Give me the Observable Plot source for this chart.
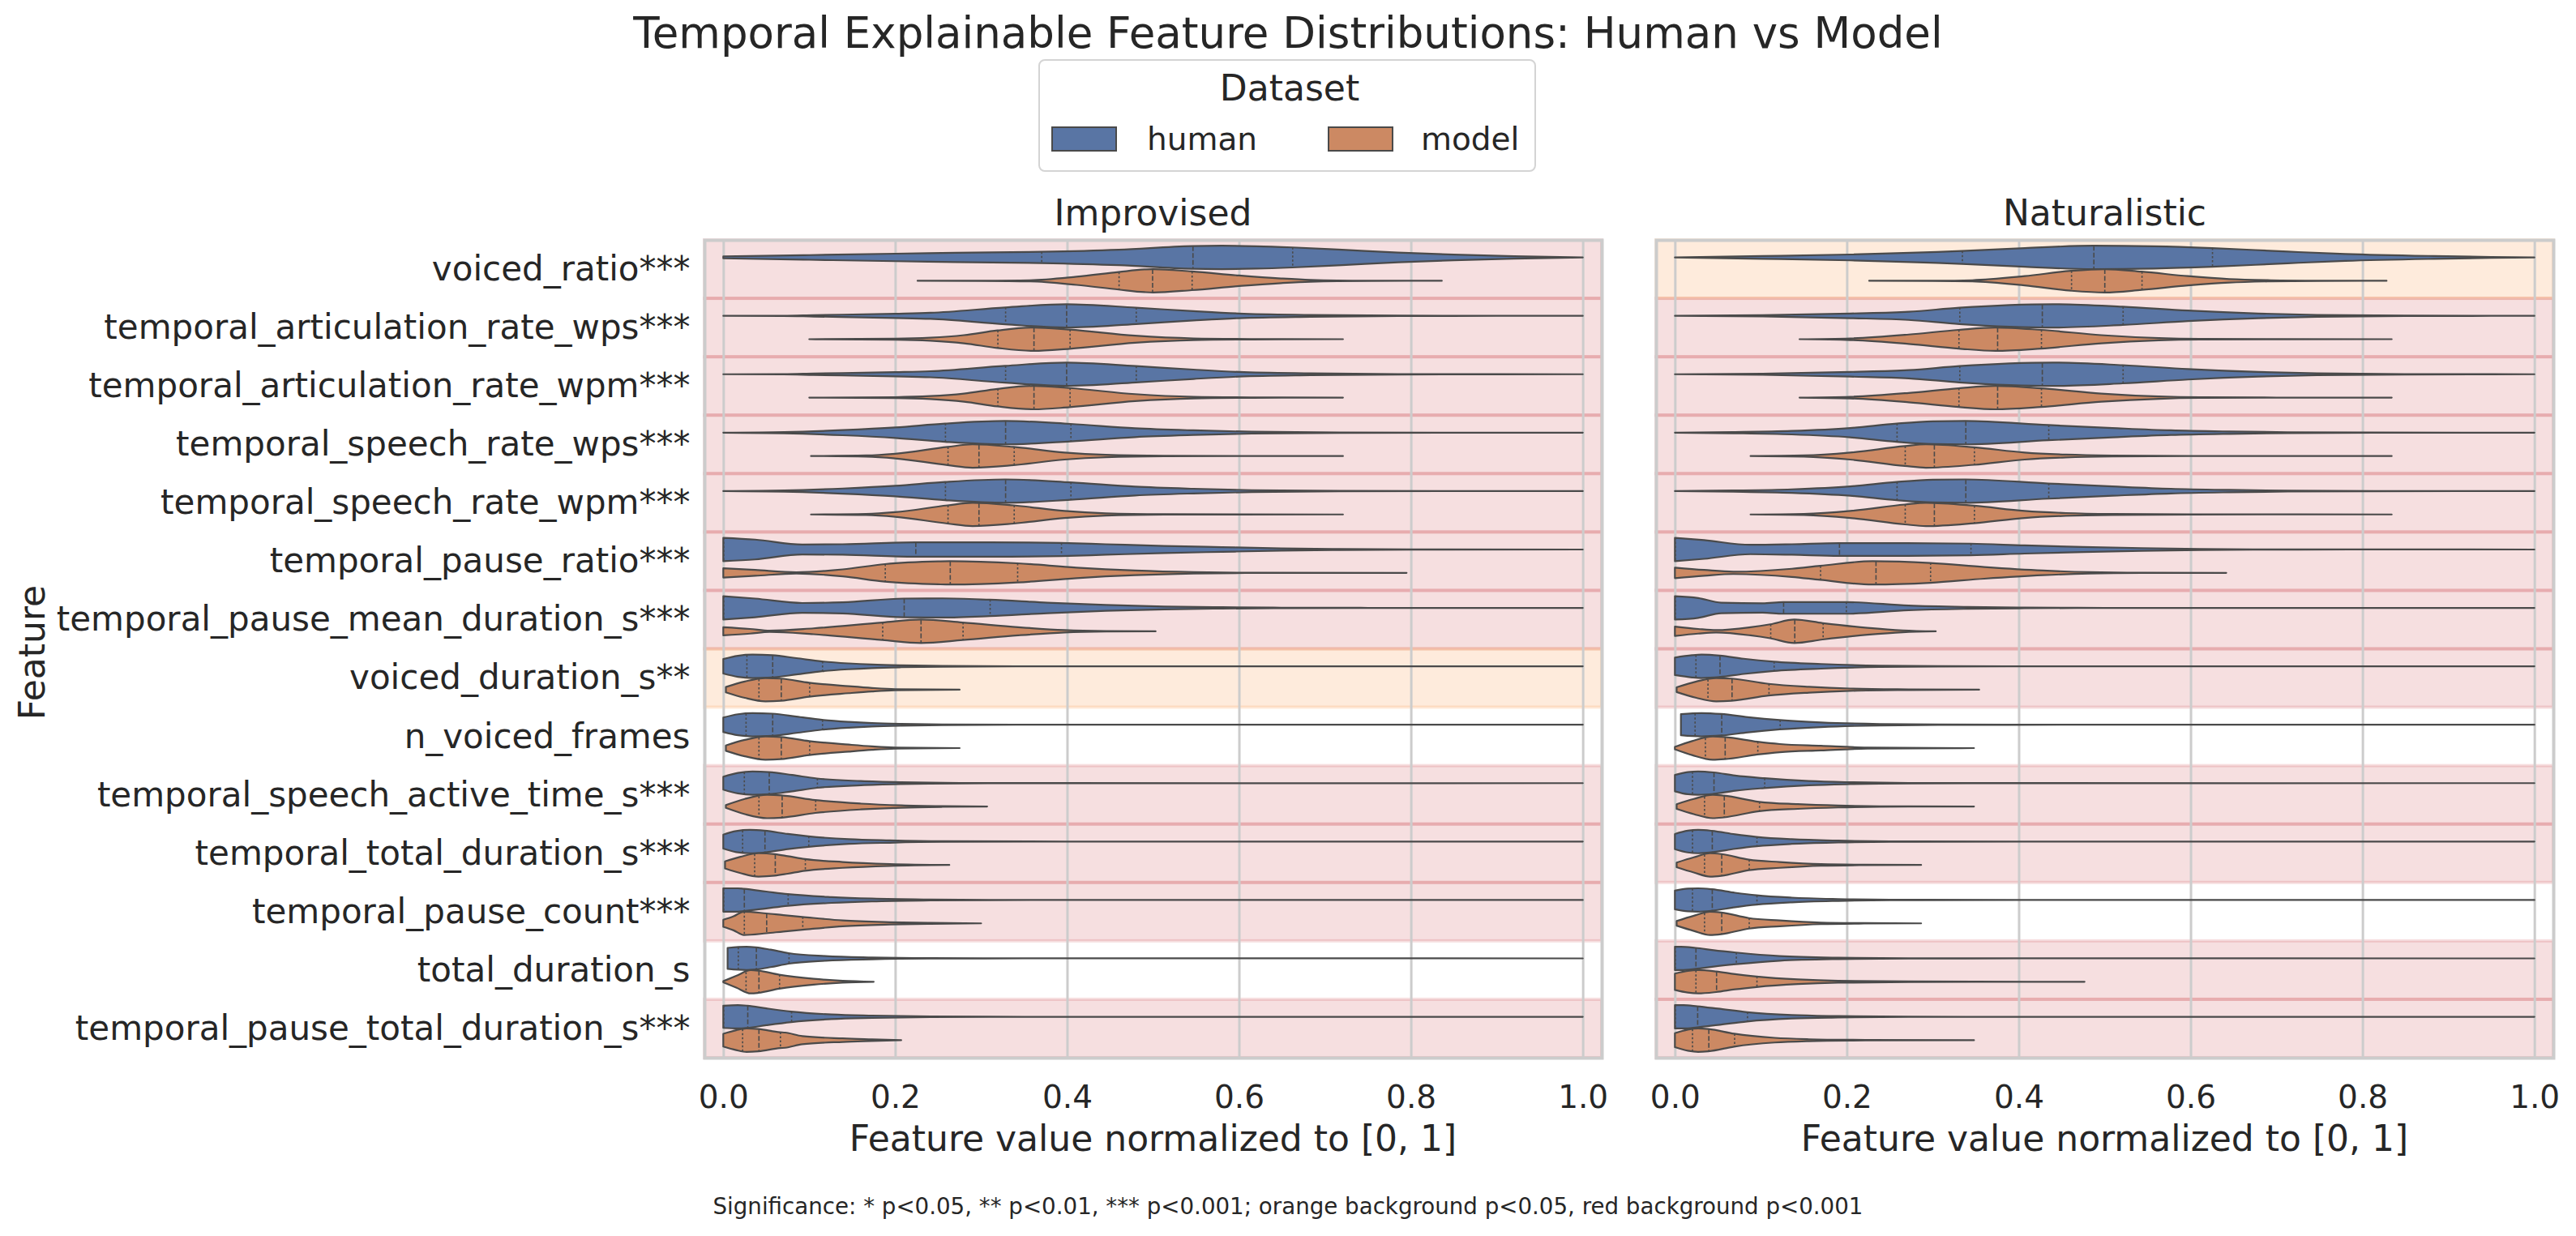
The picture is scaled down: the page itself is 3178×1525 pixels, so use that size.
<!DOCTYPE html>
<html>
<head>
<meta charset="utf-8">
<script src="https://cdn.jsdelivr.net/npm/d3@7"></script>
<script src="https://cdn.jsdelivr.net/npm/@observablehq/plot@0.6"></script>
<style>
  body { margin: 0; background: #ffffff; }
  #root { position: relative; width: 3178px; height: 1525px; overflow: hidden;
          font-family: "DejaVu Sans", sans-serif; color: #262626; background: #fff; }
  .t { position: absolute; white-space: nowrap; line-height: 1; transform: translate(-50%, -50%); }
</style>
</head>
<body>
<div id="root"></div>
<script>
// ---------------- DATA ----------------
const features = [
  "voiced_ratio***",
  "temporal_articulation_rate_wps***",
  "temporal_articulation_rate_wpm***",
  "temporal_speech_rate_wps***",
  "temporal_speech_rate_wpm***",
  "temporal_pause_ratio***",
  "temporal_pause_mean_duration_s***",
  "voiced_duration_s**",
  "n_voiced_frames",
  "temporal_speech_active_time_s***",
  "temporal_total_duration_s***",
  "temporal_pause_count***",
  "total_duration_s",
  "temporal_pause_total_duration_s***"
];
const panels = ["Improvised", "Naturalistic"];
const datasets = ["human", "model"];
const xTicks = [0, 0.2, 0.4, 0.6, 0.8, 1.0];

// background significance per feature row (red p<0.001, orange p<0.05, null none)
const improvisedSig = ["red","red","red","red","red","red","red","orange",null,"red","red","red",null,"red"];
const naturalisticSig = ["orange","red","red","red","red","red","red","red",null,"red","red",null,"red","red"];

// violin outlines: [value, relative half-width], first point = min, last point = max
const improvisedHumanShape = [
  [[0,0.08],[0.1,0.2],[0.2,0.32],[0.27,0.4],[0.37,0.48],[0.46,0.66],[0.545,0.97],[0.58,1.0],[0.62,0.96],[0.662,0.86],[0.72,0.66],[0.785,0.42],[0.85,0.24],[0.92,0.1],[1.0,0]],
  [[0,0],[0.07,0.01],[0.105,0.06],[0.2,0.18],[0.241,0.26],[0.328,0.72],[0.399,1.0],[0.48,0.7],[0.547,0.4],[0.6,0.2],[0.683,0.08],[0.785,0.02],[0.9,0.005],[1,0]],
  [[0,0],[0.07,0.01],[0.105,0.06],[0.2,0.18],[0.241,0.26],[0.328,0.72],[0.399,1.0],[0.48,0.7],[0.547,0.4],[0.6,0.2],[0.683,0.08],[0.785,0.02],[0.9,0.005],[1,0]],
  [[0,0],[0.071,0.05],[0.139,0.22],[0.2,0.45],[0.258,0.78],[0.328,1.0],[0.404,0.75],[0.479,0.38],[0.547,0.2],[0.615,0.08],[0.717,0.02],[0.85,0.005],[1,0]],
  [[0,0],[0.071,0.05],[0.139,0.22],[0.2,0.45],[0.258,0.78],[0.328,1.0],[0.404,0.75],[0.479,0.38],[0.547,0.2],[0.615,0.08],[0.717,0.02],[0.85,0.005],[1,0]],
  [[0,1.0],[0.037,0.85],[0.092,0.42],[0.139,0.45],[0.2235,0.62],[0.31,0.62],[0.393,0.56],[0.445,0.45],[0.513,0.3],[0.58,0.2],[0.649,0.1],[0.717,0.04],[0.8,0.01],[1,0]],
  [[0,1.0],[0.037,0.8],[0.092,0.42],[0.139,0.48],[0.21,0.8],[0.255,0.82],[0.31,0.7],[0.377,0.45],[0.445,0.25],[0.513,0.12],[0.58,0.06],[0.649,0.02],[0.75,0.005],[1,0]],
  [[0,0.62],[0.017,0.9],[0.034,1.0],[0.057,0.95],[0.085,0.7],[0.115,0.42],[0.146,0.25],[0.173,0.15],[0.207,0.08],[0.255,0.03],[0.34,0.005],[1,0]],
  [[0,0.62],[0.017,0.9],[0.034,1.0],[0.057,0.95],[0.085,0.7],[0.115,0.42],[0.146,0.25],[0.173,0.15],[0.207,0.08],[0.255,0.03],[0.34,0.005],[1,0]],
  [[0,0.55],[0.017,0.88],[0.034,1.0],[0.053,0.95],[0.08,0.7],[0.109,0.4],[0.16,0.18],[0.207,0.08],[0.275,0.02],[0.4,0.003],[1,0]],
  [[0,0.6],[0.015,0.9],[0.031,1.0],[0.048,0.93],[0.075,0.65],[0.099,0.45],[0.146,0.2],[0.194,0.1],[0.255,0.03],[0.4,0.003],[1,0]],
  [[0,1.0],[0.017,1.0],[0.024,0.95],[0.05,0.72],[0.075,0.5],[0.126,0.25],[0.173,0.12],[0.241,0.04],[0.31,0.01],[0.45,0.002],[1,0]],
  [[0.005,0.9],[0.027,1.0],[0.038,0.95],[0.055,0.75],[0.076,0.45],[0.119,0.2],[0.173,0.08],[0.241,0.02],[0.35,0.003],[1,0]],
  [[0,0.95],[0.017,1.0],[0.028,0.95],[0.05,0.72],[0.079,0.45],[0.126,0.2],[0.173,0.1],[0.241,0.03],[0.35,0.005],[1,0]]
];
const improvisedModelShape = [
  [[0.226,0],[0.3,0.01],[0.357,0.05],[0.411,0.35],[0.46,0.75],[0.49,0.97],[0.5,1.0],[0.545,0.8],[0.6,0.45],[0.649,0.2],[0.683,0.08],[0.75,0.01],[0.836,0]],
  [[0.1,0],[0.2,0.04],[0.241,0.13],[0.28,0.35],[0.319,0.75],[0.361,1.0],[0.403,0.82],[0.479,0.3],[0.547,0.07],[0.615,0.02],[0.721,0]],
  [[0.1,0],[0.2,0.04],[0.241,0.13],[0.28,0.35],[0.319,0.75],[0.361,1.0],[0.403,0.82],[0.479,0.3],[0.547,0.07],[0.615,0.02],[0.721,0]],
  [[0.102,0],[0.166,0.05],[0.2,0.2],[0.261,0.78],[0.29,1.0],[0.338,0.78],[0.397,0.3],[0.445,0.1],[0.513,0.02],[0.6,0.005],[0.721,0]],
  [[0.102,0],[0.166,0.05],[0.2,0.2],[0.261,0.78],[0.29,1.0],[0.338,0.78],[0.397,0.3],[0.445,0.1],[0.513,0.02],[0.6,0.005],[0.721,0]],
  [[0,0.4],[0.037,0.25],[0.085,0.05],[0.139,0.3],[0.188,0.75],[0.25,0.98],[0.2636,1.0],[0.342,0.82],[0.411,0.45],[0.479,0.2],[0.547,0.06],[0.615,0.01],[0.795,0]],
  [[0,0.35],[0.031,0.2],[0.054,0.05],[0.105,0.25],[0.185,0.75],[0.23,1.0],[0.2785,0.75],[0.343,0.35],[0.397,0.1],[0.445,0.02],[0.503,0]],
  [[0.003,0.23],[0.025,0.7],[0.049,1.0],[0.067,0.95],[0.1,0.6],[0.146,0.3],[0.173,0.15],[0.2,0.05],[0.275,0]],
  [[0.003,0.23],[0.025,0.7],[0.049,1.0],[0.067,0.95],[0.1,0.6],[0.146,0.3],[0.173,0.15],[0.2,0.05],[0.275,0]],
  [[0.003,0.12],[0.025,0.65],[0.051,1.0],[0.068,0.95],[0.107,0.55],[0.16,0.25],[0.207,0.1],[0.255,0.03],[0.307,0]],
  [[0.002,0.3],[0.02,0.7],[0.041,1.0],[0.06,0.92],[0.075,0.75],[0.095,0.5],[0.139,0.25],[0.194,0.08],[0.263,0]],
  [[0,0.3],[0.012,0.6],[0.024,1.0],[0.05,0.85],[0.07,0.7],[0.092,0.55],[0.139,0.25],[0.194,0.1],[0.241,0.04],[0.3,0]],
  [[0,0.05],[0.015,0.5],[0.032,1.0],[0.041,0.95],[0.065,0.6],[0.105,0.25],[0.139,0.08],[0.175,0]],
  [[0,0.55],[0.015,0.85],[0.027,1.0],[0.041,0.95],[0.066,0.68],[0.072,0.65],[0.092,0.35],[0.139,0.15],[0.173,0.07],[0.207,0]]
];
const naturalisticHumanShape = [
  [[0,0],[0.102,0.12],[0.204,0.25],[0.334,0.55],[0.407,0.8],[0.487,1.0],[0.557,0.95],[0.625,0.8],[0.713,0.5],[0.78,0.3],[0.883,0.12],[0.95,0.04],[1,0]],
  [[0,0],[0.102,0.05],[0.204,0.2],[0.272,0.35],[0.331,0.7],[0.44,1.0],[0.521,0.78],[0.597,0.45],[0.679,0.2],[0.747,0.08],[0.849,0.02],[0.95,0.005],[1,0]],
  [[0,0],[0.102,0.05],[0.204,0.2],[0.272,0.35],[0.331,0.7],[0.44,1.0],[0.521,0.78],[0.597,0.45],[0.679,0.2],[0.747,0.08],[0.849,0.02],[0.95,0.005],[1,0]],
  [[0,0],[0.068,0.05],[0.136,0.15],[0.204,0.4],[0.258,0.78],[0.3,0.97],[0.338,1.0],[0.4345,0.65],[0.509,0.4],[0.577,0.2],[0.645,0.1],[0.713,0.04],[0.815,0.01],[1,0]],
  [[0,0],[0.068,0.05],[0.136,0.15],[0.204,0.4],[0.258,0.78],[0.3,0.97],[0.338,1.0],[0.4345,0.65],[0.509,0.4],[0.577,0.2],[0.645,0.1],[0.713,0.04],[0.815,0.01],[1,0]],
  [[0,1.0],[0.034,0.8],[0.088,0.4],[0.136,0.45],[0.191,0.55],[0.27,0.55],[0.344,0.5],[0.407,0.35],[0.475,0.22],[0.543,0.12],[0.611,0.05],[0.679,0.01],[0.8,0.002],[1,0]],
  [[0,1.0],[0.027,0.85],[0.054,0.45],[0.102,0.4],[0.126,0.5],[0.199,0.5],[0.272,0.2],[0.34,0.08],[0.407,0.03],[0.5,0.005],[1,0]],
  [[0,0.75],[0.02,0.95],[0.031,1.0],[0.052,0.92],[0.08,0.65],[0.115,0.4],[0.17,0.2],[0.238,0.06],[0.306,0.02],[0.45,0.003],[1,0]],
  [[0.007,0.9],[0.031,1.0],[0.054,0.92],[0.085,0.65],[0.122,0.4],[0.17,0.2],[0.238,0.06],[0.306,0.02],[0.45,0.003],[1,0]],
  [[0,0.7],[0.015,0.95],[0.027,1.0],[0.045,0.92],[0.07,0.65],[0.104,0.42],[0.156,0.18],[0.204,0.08],[0.272,0.02],[0.4,0.003],[1,0]],
  [[0,0.65],[0.015,0.93],[0.027,1.0],[0.043,0.92],[0.07,0.62],[0.095,0.4],[0.136,0.2],[0.19,0.08],[0.25,0.02],[0.4,0.003],[1,0]],
  [[0,0.8],[0.015,0.97],[0.027,1.0],[0.043,0.92],[0.07,0.62],[0.095,0.4],[0.136,0.2],[0.19,0.08],[0.25,0.02],[0.4,0.003],[1,0]],
  [[0,1.0],[0.007,1.0],[0.024,0.9],[0.045,0.7],[0.071,0.5],[0.122,0.2],[0.19,0.06],[0.272,0.01],[0.4,0.002],[1,0]],
  [[0,1.0],[0.01,1.0],[0.026,0.9],[0.05,0.7],[0.084,0.4],[0.136,0.15],[0.19,0.06],[0.272,0.01],[0.4,0.002],[1,0]]
];
const naturalisticModelShape = [
  [[0.226,0],[0.3,0.01],[0.346,0.05],[0.407,0.4],[0.461,0.85],[0.5,1.0],[0.543,0.78],[0.597,0.4],[0.645,0.15],[0.693,0.05],[0.75,0.01],[0.828,0]],
  [[0.145,0],[0.204,0.07],[0.272,0.4],[0.33,0.8],[0.373,1.0],[0.426,0.8],[0.496,0.35],[0.563,0.1],[0.611,0.03],[0.7,0.005],[0.834,0]],
  [[0.145,0],[0.204,0.07],[0.272,0.4],[0.33,0.8],[0.373,1.0],[0.426,0.8],[0.496,0.35],[0.563,0.1],[0.611,0.03],[0.7,0.005],[0.834,0]],
  [[0.088,0],[0.15,0.05],[0.204,0.3],[0.2675,0.85],[0.292,1.0],[0.348,0.75],[0.407,0.3],[0.455,0.12],[0.509,0.04],[0.6,0.005],[0.834,0]],
  [[0.088,0],[0.15,0.05],[0.204,0.3],[0.2675,0.85],[0.292,1.0],[0.348,0.75],[0.407,0.3],[0.455,0.12],[0.509,0.04],[0.6,0.005],[0.834,0]],
  [[0,0.45],[0.034,0.25],[0.068,0.1],[0.136,0.35],[0.169,0.6],[0.23,1.0],[0.297,0.85],[0.36,0.5],[0.428,0.2],[0.482,0.06],[0.543,0.01],[0.6415,0]],
  [[0,0.4],[0.027,0.2],[0.048,0.1],[0.088,0.35],[0.111,0.6],[0.139,1.0],[0.172,0.7],[0.224,0.3],[0.265,0.08],[0.3035,0]],
  [[0.002,0.2],[0.025,0.7],[0.048,1.0],[0.066,0.95],[0.109,0.5],[0.156,0.25],[0.204,0.1],[0.272,0.03],[0.354,0]],
  [[0,0.1],[0.02,0.6],[0.044,1.0],[0.058,0.95],[0.096,0.55],[0.122,0.35],[0.17,0.2],[0.224,0.05],[0.348,0]],
  [[0.002,0.2],[0.022,0.65],[0.044,1.0],[0.057,0.93],[0.098,0.4],[0.143,0.2],[0.19,0.08],[0.238,0.02],[0.348,0]],
  [[0.002,0.2],[0.022,0.65],[0.041,1.0],[0.054,0.93],[0.086,0.45],[0.122,0.25],[0.17,0.07],[0.22,0.02],[0.2865,0]],
  [[0.002,0.2],[0.022,0.65],[0.041,1.0],[0.054,0.93],[0.086,0.45],[0.122,0.25],[0.17,0.07],[0.22,0.02],[0.2865,0]],
  [[0,0.7],[0.015,0.93],[0.027,1.0],[0.048,0.88],[0.07,0.65],[0.095,0.45],[0.143,0.2],[0.19,0.08],[0.272,0.03],[0.35,0.01],[0.4766,0]],
  [[0,0.6],[0.015,0.9],[0.027,1.0],[0.039,0.95],[0.069,0.55],[0.116,0.2],[0.156,0.08],[0.204,0.03],[0.348,0]]
];

// quartiles [Q1, median, Q3]
const improvisedHumanQuartiles = [
  [0.370,0.546,0.662],[0.328,0.399,0.48],[0.328,0.399,0.48],[0.258,0.328,0.404],[0.258,0.328,0.404],
  [0,0.2235,0.393],[0,0.21,0.31],[0.027,0.057,0.115],[0.026,0.057,0.115],[0.024,0.053,0.109],
  [0.022,0.048,0.099],[0,0.024,0.075],[0.017,0.038,0.076],[0,0.028,0.079]
];
const improvisedModelQuartiles = [
  [0.46,0.499,0.545],[0.319,0.361,0.403],[0.319,0.361,0.403],[0.261,0.297,0.338],[0.261,0.297,0.338],
  [0.188,0.2636,0.342],[0.185,0.2296,0.2785],[0.041,0.067,0.1],[0.041,0.067,0.1],[0.041,0.068,0.107],
  [0.036,0.06,0.095],[0.024,0.05,0.092],[0.026,0.041,0.065],[0.022,0.041,0.066]
];
const naturalisticHumanQuartiles = [
  [0.334,0.487,0.625],[0.331,0.427,0.521],[0.331,0.427,0.521],[0.258,0.338,0.4345],[0.258,0.338,0.4345],
  [0,0.191,0.344],[0,0.126,0.199],[0.024,0.052,0.115],[0.023,0.054,0.122],[0.02,0.045,0.104],
  [0.02,0.043,0.095],[0.02,0.043,0.095],[0,0.024,0.071],[0,0.026,0.084]
];
const naturalisticModelQuartiles = [
  [0.461,0.4997,0.543],[0.33,0.375,0.426],[0.33,0.375,0.426],[0.2675,0.3014,0.348],[0.2675,0.3014,0.348],
  [0.169,0.2335,0.297],[0.111,0.139,0.172],[0.038,0.066,0.109],[0.035,0.058,0.096],[0.034,0.057,0.098],
  [0.034,0.054,0.086],[0.034,0.054,0.086],[0.024,0.048,0.095],[0.02,0.039,0.069]
];

// ---------------- STYLE ----------------
const datasetColors = { human: "#5975a4", model: "#cc8963" };
const sigColors = { red: "#c32a30", orange: "#f77c11" };
const outline = "#4a4a4a";
const xDomain = [-0.022, 1.022];
const dodge = { human: -0.2, model: 0.2 };
const halfWidth = 0.2;

// ---------------- BUILD ----------------
function widthAt(shape, v) {
  for (let k = 0; k < shape.length - 1; k++) {
    const [x0, w0] = shape[k], [x1, w1] = shape[k + 1];
    if (v >= x0 && v <= x1) return x1 === x0 ? Math.max(w0, w1) : w0 + (w1 - w0) * (v - x0) / (x1 - x0);
  }
  return v < shape[0][0] ? shape[0][1] : 0;
}

function violinPoints(shapes, dataset) {
  const out = [];
  shapes.forEach((shape, i) => {
    const c = i + dodge[dataset];
    shape.forEach(([x, w]) => out.push({ id: dataset + i, dataset, x, y1: c - w * halfWidth, y2: c + w * halfWidth, fill: datasetColors[dataset] }));
  });
  return out;
}

function quartileRules(shapes, quarts, dataset) {
  const out = [];
  quarts.forEach((q, i) => {
    const c = i + dodge[dataset];
    q.forEach((v, k) => {
      const w = widthAt(shapes[i], v);
      out.push({ x: v, y1: c - w * halfWidth, y2: c + w * halfWidth, median: k === 1 });
    });
  });
  return out;
}

function makePanel(humanShape, humanQ, modelShape, modelQ, sig, showY, width, marginLeft, marginRight) {
  const bands = sig.map((s, i) => ({ i, s })).filter(d => d.s);
  const pts = violinPoints(humanShape, "human").concat(violinPoints(modelShape, "model"));
  const rules = quartileRules(humanShape, humanQ, "human").concat(quartileRules(modelShape, modelQ, "model"));
  const marks = [
    Plot.rect(bands, { y1: d => d.i - 0.5, y2: d => d.i + 0.5, fill: d => sigColors[d.s], fillOpacity: 0.15,
      stroke: d => sigColors[d.s], strokeOpacity: 0.15, strokeWidth: 4 }),
    Plot.gridX(xTicks, { stroke: "#cccccc", strokeOpacity: 1, strokeWidth: 3 }),
    Plot.areaY(pts, { x: "x", y1: "y1", y2: "y2", z: "id", fill: "fill", stroke: outline, strokeWidth: 2.2,
      strokeLinejoin: "round", curve: "monotone-x" }),
    Plot.ruleX(rules.filter(d => !d.median), { x: "x", y1: "y1", y2: "y2", stroke: outline, strokeWidth: 1.6, strokeDasharray: "2.5,2.5" }),
    Plot.ruleX(rules.filter(d => d.median), { x: "x", y1: "y1", y2: "y2", stroke: outline, strokeWidth: 1.6, strokeDasharray: "6,2.5" }),
    Plot.frame({ stroke: "#cccccc", strokeWidth: 4 }),
    Plot.axisX(xTicks, { tickFormat: d3.format(".1f"), tickSize: 0, tickPadding: 34, label: null, fill: "#262626" })
  ];
  if (showY) marks.push(Plot.axisY(d3.range(features.length), { tickFormat: i => features[i], tickSize: 0, tickPadding: 18,
    label: null, fill: "#262626", fontSize: 42 }));
  return Plot.plot({
    width, height: 1145, marginTop: 56, marginBottom: 80, marginLeft, marginRight,
    style: { background: "none", fontFamily: "DejaVu Sans, sans-serif", fontSize: "39px", color: "#262626", overflow: "visible" },
    color: { type: "identity" },
    x: { domain: xDomain },
    y: { domain: [-0.5, 13.5], reverse: true, axis: showY ? undefined : null },
    marks
  });
}

const root = document.getElementById("root");
function place(el, left, top, w) {
  const d = document.createElement("div");
  d.style.position = "absolute"; d.style.left = left + "px"; d.style.top = top + "px"; d.style.width = w + "px";
  d.appendChild(el); root.appendChild(d);
}
function text(str, cx, cy, size, rotate) {
  const d = document.createElement("div");
  d.className = "t";
  d.textContent = str;
  d.style.left = cx + "px"; d.style.top = cy + "px"; d.style.fontSize = size + "px";
  if (rotate) d.style.transform = "translate(-50%, -50%) rotate(-90deg)";
  root.appendChild(d);
  return d;
}

// panels
place(makePanel(improvisedHumanShape, improvisedHumanQuartiles, improvisedModelShape, improvisedModelQuartiles,
  improvisedSig, true, 2021, 869, 45), 0, 240, 2021);
place(makePanel(naturalisticHumanShape, naturalisticHumanQuartiles, naturalisticModelShape, naturalisticModelQuartiles,
  naturalisticSig, false, 1178, 43, 28), 2000, 240, 1178);

// titles & labels
text("Temporal Explainable Feature Distributions: Human vs Model", 1589, 40, 53);
text(panels[0], 1422.5, 263, 44);
text(panels[1], 2596.5, 263, 44);
text("Feature value normalized to [0, 1]", 1422.5, 1405, 44);
text("Feature value normalized to [0, 1]", 2596.5, 1405, 44);
text("Feature", 40, 805, 44, true);
text("Significance: * p<0.05, ** p<0.01, *** p<0.001; orange background p<0.05, red background p<0.001", 1589, 1489, 27.7);

// legend
const box = document.createElement("div");
Object.assign(box.style, { position: "absolute", left: "1281px", top: "73px", width: "610px", height: "135px",
  border: "2px solid #d4d4d4", borderRadius: "8px", background: "rgba(255,255,255,0.8)" });
root.appendChild(box);
text("Dataset", 1591, 109, 44);
const legendItems = [
  { name: datasets[0], sx: 1297, tx: 1415 },
  { name: datasets[1], sx: 1638, tx: 1753 }
];
legendItems.forEach(it => {
  const sw = document.createElement("div");
  Object.assign(sw.style, { position: "absolute", left: it.sx + "px", top: "156px", width: "77px", height: "27px",
    background: datasetColors[it.name], border: "2px solid " + outline });
  root.appendChild(sw);
  const t = document.createElement("div");
  t.textContent = it.name;
  Object.assign(t.style, { position: "absolute", left: it.tx + "px", top: "171px", transform: "translate(0,-50%)",
    fontSize: "39px", lineHeight: "1", whiteSpace: "nowrap" });
  root.appendChild(t);
});
</script>
</body>
</html>
